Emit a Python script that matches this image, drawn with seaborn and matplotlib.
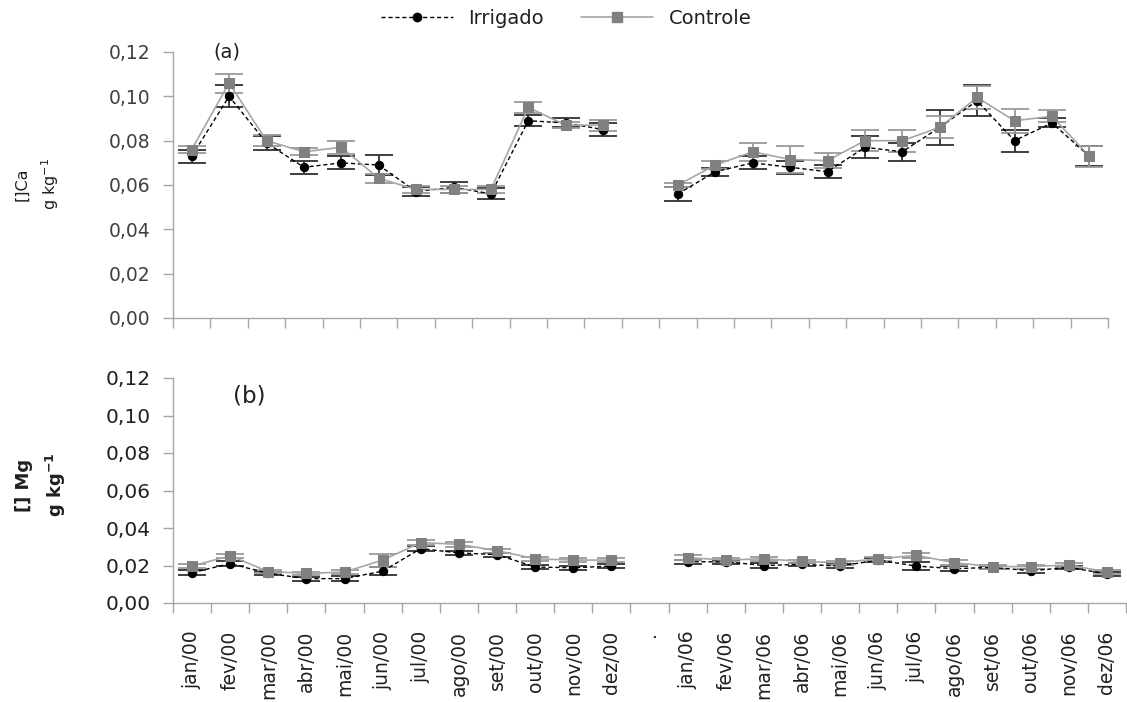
import numpy as np
import pandas as pd
import matplotlib
matplotlib.use("Agg")
import matplotlib.pyplot as plt
import seaborn as sns
from matplotlib.lines import Line2D
from matplotlib.ticker import FuncFormatter, FixedLocator

# ---------------- data ----------------
tick_labels = ["jan/00", "fev/00", "mar/00", "abr/00", "mai/00", "jun/00",
               "jul/00", "ago/00", "set/00", "out/00", "nov/00", "dez/00",
               ".",
               "jan/06", "fev/06", "mar/06", "abr/06", "mai/06", "jun/06",
               "jul/06", "ago/06", "set/06", "out/06", "nov/06", "dez/06"]
treatments = ["Irrigado", "Controle"]

# Ca (panel a)
ca_irr_00 = [0.073, 0.100, 0.079, 0.068, 0.070, 0.069, 0.057, 0.059, 0.056, 0.089, 0.088, 0.085]
ca_irr_06 = [0.056, 0.066, 0.070, 0.068, 0.066, 0.077, 0.075, 0.086, 0.098, 0.080, 0.088, 0.073]
ca_ctl_00 = [0.076, 0.106, 0.080, 0.075, 0.077, 0.063, 0.058, 0.058, 0.058, 0.095, 0.087, 0.087]
ca_ctl_06 = [0.060, 0.069, 0.075, 0.0715, 0.071, 0.080, 0.080, 0.086, 0.0995, 0.089, 0.091, 0.073]
ca_irr_err_00 = [0.003, 0.005, 0.003, 0.003, 0.003, 0.0045, 0.002, 0.0025, 0.0025, 0.0025, 0.002, 0.003]
ca_irr_err_06 = [0.003, 0.0018, 0.003, 0.003, 0.003, 0.005, 0.004, 0.008, 0.007, 0.005, 0.002, 0.0045]
ca_ctl_err_00 = [0.0015, 0.0043, 0.0025, 0.0015, 0.003, 0.002, 0.0015, 0.0015, 0.0015, 0.0025, 0.0015, 0.0025]
ca_ctl_err_06 = [0.001, 0.0018, 0.004, 0.006, 0.0035, 0.0047, 0.005, 0.005, 0.005, 0.0055, 0.0027, 0.0047]

# Mg (panel b)
mg_irr_00 = [0.0162, 0.021, 0.0158, 0.013, 0.013, 0.017, 0.029, 0.0267, 0.0258, 0.0192, 0.0188, 0.0197]
mg_irr_06 = [0.022, 0.022, 0.020, 0.0206, 0.0197, 0.0229, 0.0197, 0.0183, 0.019, 0.0172, 0.019, 0.0155]
mg_ctl_00 = [0.0197, 0.0252, 0.0168, 0.0158, 0.0165, 0.0229, 0.0322, 0.0313, 0.0279, 0.0236, 0.0229, 0.0229]
mg_ctl_06 = [0.0242, 0.0229, 0.0236, 0.0222, 0.0215, 0.0236, 0.0254, 0.0215, 0.0194, 0.0194, 0.0203, 0.0165]
mg_irr_err_00 = [0.0012, 0.0012, 0.0010, 0.0010, 0.0012, 0.0020, 0.0012, 0.0012, 0.0010, 0.0010, 0.0010, 0.0010]
mg_irr_err_06 = [0.0010, 0.0010, 0.0012, 0.0010, 0.0010, 0.0010, 0.0020, 0.0012, 0.0010, 0.0010, 0.0010, 0.0010]
mg_ctl_err_00 = [0.0012, 0.0012, 0.0010, 0.0010, 0.0010, 0.0035, 0.0015, 0.0012, 0.0010, 0.0010, 0.0010, 0.0010]
mg_ctl_err_06 = [0.0012, 0.0010, 0.0012, 0.0010, 0.0010, 0.0010, 0.0015, 0.0012, 0.0010, 0.0010, 0.0010, 0.0010]

# ---------------- long-form table ----------------
pos_00 = list(range(0, 12))
pos_06 = list(range(13, 25))
rows = []
def add(panel, trat, seg, pos, vals, errs):
    for p, v, e in zip(pos, vals, errs):
        rows.append(dict(painel=panel, trat=trat, seg=seg, pos=p, valor=v, erro=e))
add("Ca", "Irrigado", "00", pos_00, ca_irr_00, ca_irr_err_00)
add("Ca", "Irrigado", "06", pos_06, ca_irr_06, ca_irr_err_06)
add("Ca", "Controle", "00", pos_00, ca_ctl_00, ca_ctl_err_00)
add("Ca", "Controle", "06", pos_06, ca_ctl_06, ca_ctl_err_06)
add("Mg", "Irrigado", "00", pos_00, mg_irr_00, mg_irr_err_00)
add("Mg", "Irrigado", "06", pos_06, mg_irr_06, mg_irr_err_06)
add("Mg", "Controle", "00", pos_00, mg_ctl_00, mg_ctl_err_00)
add("Mg", "Controle", "06", pos_06, mg_ctl_06, mg_ctl_err_06)
df = pd.DataFrame(rows)

# ---------------- styling ----------------
sns.set_style("white")
plt.rcParams["font.family"] = ["DejaVu Sans"]

AXC = "#a6a6a6"
style = {
    "Irrigado": dict(color="black", marker="o", linestyle=(0, (3, 2)), linewidth=1.0,
                     markersize=6, markerfacecolor="black", markeredgecolor="black"),
    "Controle": dict(color="#a6a6a6", marker="s", linestyle="-", linewidth=1.2,
                     markersize=7, markerfacecolor="#808080", markeredgecolor="#808080"),
}
errc = {"Irrigado": "#303030", "Controle": "#9a9a9a"}

fig = plt.figure(figsize=(11.27, 7.02), dpi=100)
W, H = 1127, 702
def rect(l, t, r, b):
    return [l / W, 1 - b / H, (r - l) / W, (b - t) / H]

ax_a = fig.add_axes(rect(173, 52, 1108, 318))
ax_b = fig.add_axes(rect(173, 378, 1126, 603))

fmt = FuncFormatter(lambda v, _: f"{v:.2f}".replace(".", ","))

for ax, panel in [(ax_a, "Ca"), (ax_b, "Mg")]:
    sub_p = df[df.painel == panel]
    for trat in treatments:
        for seg in ["00", "06"]:
            s = sub_p[(sub_p.trat == trat) & (sub_p.seg == seg)]
            ax.errorbar(s.pos, s.valor, yerr=s.erro, fmt="none", ecolor=errc[trat],
                        elinewidth=1.3, capsize=10, capthick=1.3, zorder=2)
            sns.lineplot(data=s, x="pos", y="valor", ax=ax, estimator=None,
                         sort=False, zorder=3, **style[trat])
    ax.set_xlim(-0.5, 24.5)
    ax.set_ylim(0, 0.12)
    ax.set_yticks(np.arange(0, 0.1201, 0.02))
    ax.yaxis.set_major_formatter(fmt)
    ax.xaxis.set_major_locator(FixedLocator(np.arange(-0.5, 25, 1.0)))
    ax.xaxis.set_minor_locator(FixedLocator(np.arange(0, 25, 1.0)))
    ax.set_xticklabels([])
    ax.set_xlabel("")
    ax.set_ylabel("")
    for sp in ["top", "right"]:
        ax.spines[sp].set_visible(False)
    for sp in ["left", "bottom"]:
        ax.spines[sp].set_color(AXC)
        ax.spines[sp].set_linewidth(1.0)
    ax.tick_params(axis="both", which="major", direction="out", length=7,
                   color=AXC, width=1.0, left=True, bottom=True)
    ax.tick_params(axis="x", which="minor", length=0)
    ax.tick_params(axis="y", labelcolor="#404040", pad=9)
    ax.grid(False)
    if ax.get_legend() is not None:
        ax.get_legend().remove()

ax_a.tick_params(axis="y", labelsize=13.5)
ax_b.tick_params(axis="y", labelsize=14.5, labelcolor="#202020")

ax_b.set_xticks(np.arange(0, 25, 1.0), minor=True)
ax_b.set_xticklabels(tick_labels, minor=True, rotation=90, fontsize=13.5,
                     color="#202020", va="top")
ax_b.tick_params(axis="x", which="minor", pad=20)

# panel labels
fig.text(213 / W, 1 - 43 / H, "(a)", fontsize=14, color="#202020", va="top", ha="left")
fig.text(233 / W, 1 - 384 / H, "(b)", fontsize=16.5, color="#202020", va="top", ha="left")

# y labels
fig.text(22 / W, 1 - 184 / H, "[]Ca", rotation=90, fontsize=11.5, color="#202020",
         va="center", ha="center")
fig.text(50 / W, 1 - 184 / H, r"g kg$^{\mathregular{-1}}$", rotation=90, fontsize=11.5,
         color="#202020", va="center", ha="center")
fig.text(24 / W, 1 - 485 / H, "[] Mg", rotation=90, fontsize=13, color="#202020",
         fontweight="bold", va="center", ha="center")
fig.text(56 / W, 1 - 485 / H, r"g kg$^{\mathregular{-1}}$", rotation=90, fontsize=13,
         color="#202020", fontweight="bold", va="center", ha="center")

# legend
handles = [Line2D([], [], **style[t]) for t in treatments]
fig.legend(handles, treatments, loc="center", bbox_to_anchor=(566 / W, 1 - 18 / H),
           ncol=2, frameon=False, fontsize=14, handlelength=3.7, columnspacing=1.9,
           handletextpad=0.8, labelcolor="#202020")

fig.savefig("out.png", dpi=100)
